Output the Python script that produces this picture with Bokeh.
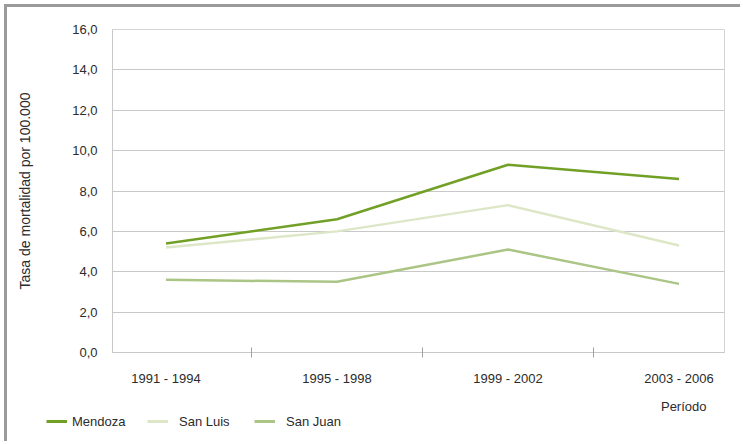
from bokeh.plotting import figure
from bokeh.models import (Range1d, FixedTicker, Legend, LegendItem, Label)
from bokeh.embed import file_html
from bokeh.resources import INLINE

# ---- data ----
periods = ["1991 - 1994", "1995 - 1998", "1999 - 2002", "2003 - 2006"]
mendoza = [5.4, 6.6, 9.3, 8.6]
san_luis = [5.2, 6.0, 7.3, 5.3]
san_juan = [3.6, 3.5, 5.1, 3.4]
y_ticks = [0, 2, 4, 6, 8, 10, 12, 14, 16]
y_labels = ["0,0", "2,0", "4,0", "6,0", "8,0", "10,0", "12,0", "14,0", "16,0"]

series_names = ["Mendoza", "San Luis", "San Juan"]
series_colors = ["#72a027", "#dde7c7", "#abc586"]
series_values = [mendoza, san_luis, san_juan]

FONT = "Liberation Sans"
TXT = "#2b2b2b"
BORDER = "3px solid #9b9b9b"

xpos = [i + 0.5 for i in range(len(periods))]

p = figure(width=736, height=390, output_backend="svg", toolbar_location=None,
           x_range=Range1d(0.187, 3.766), y_range=Range1d(0, 16),
           min_border_left=105, min_border_right=19, min_border_top=22,
           min_border_bottom=45)
p.styles = {"margin-left": "4px", "margin-top": "4px",
            "border-left": BORDER, "border-top": BORDER}

p.outline_line_color = "#d4d4d4"
p.outline_line_width = 1

# y axis
p.yaxis.ticker = FixedTicker(ticks=y_ticks)
p.yaxis.major_label_overrides = {t: l for t, l in zip(y_ticks, y_labels)}
p.yaxis.major_tick_out = 0
p.yaxis.major_tick_in = 0
p.yaxis.minor_tick_out = 0
p.yaxis.minor_tick_in = 0
p.yaxis.axis_line_color = "#c8c8c8"
p.yaxis.major_label_standoff = 15
p.yaxis.major_label_text_font = FONT
p.yaxis.major_label_text_font_size = "13px"
p.yaxis.major_label_text_color = TXT
p.yaxis.axis_label = "Tasa de mortalidad por 100.000"
p.yaxis.axis_label_text_font = FONT
p.yaxis.axis_label_text_font_size = "14px"
p.yaxis.axis_label_text_font_style = "normal"
p.yaxis.axis_label_text_color = TXT
p.yaxis.axis_label_standoff = 36

# x axis: labels at category centres, tick marks at boundaries
p.xaxis.ticker = FixedTicker(ticks=xpos, minor_ticks=[1, 2, 3])
p.xaxis.major_label_overrides = {x: l for x, l in zip(xpos, periods)}
p.xaxis.major_tick_out = 0
p.xaxis.major_tick_in = 0
p.xaxis.minor_tick_out = 5
p.xaxis.minor_tick_in = 5
p.xaxis.minor_tick_line_color = "#a0a0a0"
p.xaxis.axis_line_color = "#c8c8c8"
p.xaxis.major_label_standoff = 13
p.xaxis.major_label_text_font = FONT
p.xaxis.major_label_text_font_size = "13px"
p.xaxis.major_label_text_color = TXT

p.xgrid.visible = False
p.ygrid.ticker = FixedTicker(ticks=y_ticks)
p.ygrid.grid_line_color = "#c8c8c8"
p.ygrid.grid_line_width = 1

for vals, col in zip(series_values, series_colors):
    p.line(xpos, vals, line_color=col, line_width=2.5)

# ---- strip below: axis title + legend (series drawn out of view) ----
lf = figure(width=736, height=47, output_backend="svg", toolbar_location=None,
            x_range=Range1d(100, 836), y_range=Range1d(100, 147),
            x_axis_type=None, y_axis_type=None,
            min_border_left=0, min_border_right=0, min_border_top=0,
            min_border_bottom=0)
lf.styles = {"margin-left": "4px", "border-left": BORDER}
lf.outline_line_color = None
lf.grid.visible = False

lf.add_layout(Label(x=799, y=135, text="Período", text_align="right",
                    text_baseline="middle", text_font=FONT,
                    text_font_size="13px", text_color=TXT))

legend_x = [39, 140, 247]
legend_standoff = [5, 11, 11]
for name, vals, col, lx, ls in zip(series_names, series_values, series_colors,
                                   legend_x, legend_standoff):
    r = lf.line(xpos, vals, line_color=col, line_width=3)
    lg = Legend(items=[LegendItem(label=name, renderers=[r])],
                location=(lx, 12), orientation="horizontal",
                border_line_color=None, background_fill_alpha=0,
                padding=0, margin=0, spacing=0,
                glyph_width=21, glyph_height=16, label_standoff=ls,
                label_text_font=FONT, label_text_font_size="13px",
                label_text_color=TXT)
    lf.add_layout(lg, "center")

open("out.html", "w").write(file_html([p, lf], INLINE))
